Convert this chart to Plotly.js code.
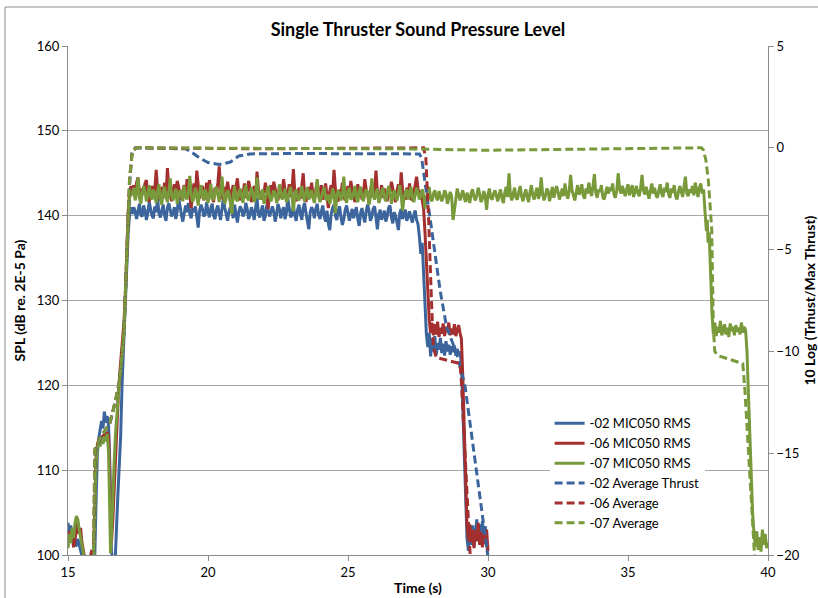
<!DOCTYPE html>
<html><head><meta charset="utf-8">
<script src="https://cdn.plot.ly/plotly-3.0.1.min.js"></script>
<style>html,body{margin:0;padding:0;background:#fff}#chart{width:818px;height:598px}</style>
</head><body><div id="chart"></div>
<script>
// ---- sampling step of the noisy plateau sections (s) ----
const PLATEAU_STEP = 0.05;

// ---- -02 MIC050 RMS (dB) ----
const RMS02_HEAD_T = [15.0,15.05,15.1,15.15,15.2,15.28,15.35,15.45,15.55,15.7,15.95,16.0,16.05,16.1,16.15,16.2,16.25,16.3,16.35,16.4,16.45,16.5,16.55,16.6,16.68,16.72,16.78,16.83,16.88,16.93,17.0,17.05,17.1,17.15,17.2,17.25];
const RMS02_HEAD = [103.8,102.4,103.5,101.6,102.6,101.0,101.9,100.4,99.2,99,99,106,112,113.8,114.6,115.8,114.9,116.9,115.6,116.4,115.2,110,100.5,99.2,99,103,107,110.5,114,120,125,129,134,138,140.2,141.0];
const RMS02_PLAT_T0 = 17.3;
const RMS02_PLAT = [
140.2,141.0,140.5,139.6,140.8,141.4,140.1,139.9,141.2,140.6,139.5,140.3,141.6,140.9,140.0,139.7,141.1,140.4,142.0,140.2,
139.8,140.6,141.3,140.0,139.4,140.9,141.5,140.7,139.9,140.3,141.0,139.6,140.5,142.2,140.8,140.1,139.3,140.6,141.2,140.4,
141.5,140.2,139.7,140.9,140.4,141.1,139.5,138.6,140.6,141.3,140.8,139.9,140.2,141.6,140.5,139.8,140.9,141.4,140.0,139.6,
140.7,141.2,140.3,139.5,140.8,142.0,140.9,140.1,139.4,140.5,141.0,140.6,139.7,141.3,140.2,139.2,140.4,141.1,140.7,139.9,
140.3,141.5,140.8,139.6,140.1,141.0,140.4,139.5,140.9,142.1,140.2,139.8,140.6,141.2,139.4,140.0,141.3,140.7,139.9,140.5,
141.1,140.4,139.3,140.2,141.4,140.8,139.7,140.5,141.0,139.6,140.3,142.1,140.6,139.8,140.1,141.2,140.0,139.4,140.7,141.3,
140.2,139.5,140.9,141.5,140.3,139.2,138.4,140.4,141.0,140.6,139.7,140.8,141.4,140.1,139.6,140.5,141.2,139.9,139.3,140.6,
139.0,138.3,140.2,140.9,141.3,140.0,139.5,140.6,141.1,139.8,138.9,139.6,140.7,141.2,140.3,139.4,140.1,140.8,139.7,140.4,
141.0,139.6,138.8,140.3,140.9,139.9,139.2,140.5,141.3,140.6,139.4,139.9,140.8,141.1,139.7,138.4,140.2,140.7,139.5,140.1,
140.6,139.3,139.9,140.9,141.2,139.8,139.1,140.4,140.0,139.2,138.3,140.3,140.8,139.6,140.1,140.7,139.4,139.9,140.5,139.7,
139.2,140.1,140.6,139.5,139.0];
const RMS02_TAIL_T = [27.55,27.6,27.65,27.7,27.75,27.8,27.85,27.9,27.95,28.0,28.05,28.1,28.15,28.2,28.25,28.3,28.35,28.4,28.45,28.5,28.55,28.6,28.65,28.7,28.75,28.8,28.85,28.9,28.95,29.0,29.05,29.1,29.15,29.2,29.25,29.3,29.35,29.4,29.45,29.5,29.55,29.6,29.65,29.7,29.75,29.8,29.85,29.9,29.95,30.0];
const RMS02_TAIL = [137.5,135.5,136.8,133,129,126,124.5,126.2,123.4,125.5,124.0,125.8,123.6,125.0,124.2,125.6,123.8,124.9,123.5,125.2,124.0,124.8,123.6,124.6,123.9,124.7,123.5,124.3,123.6,124.0,122.5,117,111,106,102,100.5,102.8,101.2,103.5,101.0,102.6,104.2,101.8,103.6,101.4,104.0,102.2,103.4,101.6,99.5];

// ---- -06 MIC050 RMS (dB) ----
const RMS06_HEAD_T = [15.0,15.05,15.1,15.15,15.2,15.3,15.35,15.4,15.45,15.5,15.55,15.62,15.75,15.85,15.9,15.96,16.0,16.05,16.1,16.2,16.3,16.35,16.4,16.45,16.5,16.55,16.6,16.65,16.7,16.75,16.8,16.85,16.9,16.95,17.0,17.05,17.1,17.15,17.2,17.25];
const RMS06_HEAD = [101.2,102.8,101.6,102.2,100.9,102.6,103.8,102.5,103.2,101.4,100.6,99.3,99,100.6,99.2,106,111.5,113,113.6,113.9,114.2,113.8,114.5,114.0,108,101.5,104,108,113,116,119,121.5,123.5,125,127.5,131,136,140.5,142.8,143.5];
const RMS06_PLAT_T0 = 17.3;
const RMS06_PLAT = [
142.8,143.6,142.1,143.9,144.5,142.7,141.9,143.2,142.5,143.8,144.2,142.4,141.6,142.9,143.5,142.2,143.1,145.4,143.0,142.3,
141.8,143.4,142.6,143.9,142.0,145.6,143.3,142.5,141.7,143.0,143.7,142.2,144.1,143.4,142.6,141.9,142.8,143.6,142.1,144.3,
143.1,142.4,140.9,142.9,143.8,142.3,145.3,143.2,142.0,142.7,143.5,141.8,142.4,143.9,142.6,144.2,143.0,142.1,141.6,143.3,
142.5,143.7,145.8,143.1,142.2,141.9,143.4,142.8,144.0,142.5,141.7,142.9,143.6,142.3,143.2,144.4,142.7,141.8,143.0,142.4,
143.8,142.1,142.9,144.1,143.3,141.6,142.6,143.5,142.0,145.2,143.1,142.4,141.9,143.0,142.7,143.9,142.2,140.8,142.8,143.6,
142.3,144.0,143.2,142.6,141.8,143.4,142.1,142.9,144.3,143.0,141.9,142.5,143.7,142.2,143.1,145.5,142.8,141.7,142.4,143.3,
142.0,143.5,145.0,142.6,141.6,142.8,143.4,142.1,143.9,142.5,141.8,143.0,144.0,142.7,142.2,143.6,141.9,142.5,143.8,142.3,
140.9,142.9,143.6,142.4,145.4,143.2,142.0,141.7,143.1,142.6,143.9,142.3,141.8,142.7,143.5,142.1,144.1,143.0,142.4,141.6,
142.8,143.7,142.2,143.3,141.9,142.5,144.3,143.1,142.6,141.4,142.9,143.8,142.2,143.0,145.3,142.7,141.8,142.4,143.6,142.1,
143.2,142.5,141.7,143.4,142.8,144.0,143.1,142.3,141.6,142.9,143.7,142.4,145.1,143.0,142.2,141.9,143.3,142.6,143.8,142.0,
141.8,142.7,143.5,144.6,143.2,142.4,142.9,141.6,140.8];
const RMS06_TAIL_T = [27.75,27.8,27.85,27.9,27.95,28.0,28.05,28.1,28.15,28.2,28.25,28.3,28.35,28.4,28.45,28.5,28.55,28.6,28.65,28.7,28.75,28.8,28.85,28.9,28.95,29.0,29.05,29.1,29.15,29.2,29.25,29.3,29.35,29.4,29.45,29.5,29.55,29.6,29.65,29.7,29.75,29.8,29.85,29.9,29.95,30.0];
const RMS06_TAIL = [138,134.5,131,127.8,126.2,127.4,125.9,127.2,126.0,127.5,125.7,126.8,126.1,127.3,125.8,126.9,126.3,127.4,125.9,126.7,126.0,127.2,125.8,126.6,127.1,126.2,125.5,121,114,108,103.5,101.8,103.6,101.5,103.0,100.8,102.9,101.6,103.8,101.2,102.7,100.9,102.4,101.3,103.0,100.5];

// ---- -07 MIC050 RMS (dB) ----
const RMS07_HEAD_T = [15.0,15.05,15.1,15.15,15.2,15.25,15.3,15.35,15.4,15.45,15.5,15.55,15.6,15.8,15.92,15.96,16.0,16.05,16.1,16.15,16.2,16.25,16.3,16.35,16.4,16.45,16.48,16.52,16.56,16.6,16.65,16.7,16.75,16.8,16.85,16.9,16.95,17.0,17.05,17.1,17.15,17.2,17.25];
const RMS07_HEAD = [100.8,102.5,101.4,103.2,102.0,103.8,104.6,104.2,103.0,102.2,101.0,100.2,99.2,99,99,105,110.5,112.6,113.2,112.8,113.6,113.1,114.0,113.4,114.3,112,104,100.2,103,107.5,111,114.5,117,119.5,121,122.5,124,126.5,130,135,139.5,142,142.8];
const RMS07_PLAT_T0 = 17.3;
const RMS07_PLAT = [
142.4,143.3,141.8,142.7,144.5,142.1,141.4,142.6,143.5,142.9,141.7,142.2,143.6,142.5,141.9,143.1,142.3,141.5,142.8,143.7,
142.0,141.3,142.9,143.4,142.2,141.6,142.7,144.4,142.4,141.8,142.5,143.2,141.4,142.1,143.0,142.6,141.7,143.5,142.3,141.9,
142.8,144.7,142.5,141.6,142.2,143.3,142.0,141.2,142.7,143.6,142.4,141.9,143.1,142.6,141.5,142.3,143.7,142.1,141.8,142.9,
143.4,142.2,141.6,142.8,144.6,142.5,141.4,142.1,143.0,142.7,141.3,140.2,142.4,143.5,142.0,141.7,142.6,143.2,142.3,141.5,
142.9,143.6,142.1,141.8,142.5,143.3,142.7,141.6,142.2,144.5,142.4,141.9,142.6,143.1,141.4,142.0,142.8,143.5,142.2,141.7,
142.3,143.0,142.6,141.5,142.1,143.7,142.8,141.9,142.4,143.2,141.6,142.0,142.7,143.4,142.3,140.5,142.5,143.1,142.0,141.8,
142.6,143.5,142.2,141.7,142.9,143.3,141.9,142.4,143.0,142.1,141.5,142.8,144.3,142.3,141.6,142.2,142.9,143.4,142.0,141.8,
142.5,141.4,142.1,143.2,142.7,140.3,142.3,143.0,142.6,141.8,142.4,144.6,142.2,141.5,142.8,143.3,141.9,142.1,142.7,143.5,
142.0,141.6,142.9,143.4,142.3,141.7,142.5,143.1,142.8,141.3,142.2,144.4,142.4,141.9,142.6,143.2,141.5,142.0,142.8,143.3,
142.1,141.7,142.6,143.5,142.9,141.4,142.3,143.0,142.2,141.8,142.7,143.6,142.4,140.6,142.0,142.8,143.1,141.9,142.5,143.4,
142.2,141.6,142.4,143.3,142.7,141.9,142.3,143.1,142.5,140.8,142.1,142.9,143.4,142.0,141.7,142.6,143.0,142.2,141.8,142.9,
142.4,141.7,142.2,143.0,142.6,141.4,142.1,142.8,142.3,139.5,140.6,142.2,143.2,142.5,141.8,142.4,143.0,142.1,141.6,142.7,
142.0,141.5,142.7,143.1,142.2,141.8,142.4,143.3,142.6,141.6,142.0,142.9,142.3,140.7,142.5,143.2,142.1,141.9,142.6,143.0,
142.3,141.7,142.5,143.1,142.0,141.5,142.7,143.4,142.2,145.0,142.4,141.8,142.6,143.3,142.1,141.9,142.8,143.5,142.3,141.7,
142.5,143.1,142.2,141.6,142.8,143.6,142.4,141.9,142.7,143.3,142.0,142.5,144.5,142.6,141.8,142.3,143.2,142.9,141.7,142.6,
143.4,142.1,142.7,143.5,142.8,141.9,142.5,143.2,142.3,143.8,142.6,142.0,142.9,144.8,143.0,142.4,141.8,142.7,143.6,142.5,
142.8,143.7,142.4,142.0,143.2,142.6,143.9,142.9,142.3,143.5,144.9,142.7,142.1,143.1,142.8,143.6,142.2,141.9,142.9,143.4,
142.6,143.3,142.9,143.8,142.5,142.1,143.0,145.0,143.2,142.6,143.5,142.8,142.3,143.1,143.7,142.4,142.9,143.6,142.2,143.0,
143.5,142.7,142.3,143.2,144.8,143.0,142.5,143.4,142.8,142.0,142.9,143.8,142.6,143.3,142.4,142.1,143.0,143.7,142.6,142.2,
143.3,142.8,143.9,142.5,142.1,143.2,142.7,143.6,142.3,141.9,142.8,143.5,142.9,142.2,143.4,144.6,142.6,142.3,143.1,142.7,
143.5,142.4,143.9,142.8,142.2,143.3,143.8,142.6,143.1];
const RMS07_TAIL_T = [37.75,37.8,37.83,37.86,37.9,37.93,37.96,38.0,38.05,38.1,38.15,38.2,38.25,38.3,38.35,38.4,38.45,38.5,38.55,38.6,38.65,38.7,38.75,38.8,38.85,38.9,38.95,39.0,39.05,39.1,39.15,39.2,39.25,39.3,39.35,39.4,39.45,39.5,39.55,39.6,39.65,39.7,39.75,39.8,39.85,39.9,39.95,40.0];
const RMS07_TAIL = [140.5,138.2,139.5,136.8,138.0,135.0,132.5,128.5,126.0,127.4,125.8,126.9,126.2,127.6,125.9,126.7,127.2,126.0,126.8,125.7,127.3,126.4,126.9,125.9,127.1,126.3,126.8,126.0,127.4,126.2,126.9,126.5,124,119,114,109,105,102.5,101,102.8,100.6,102.1,100.4,103.0,101.2,102.5,100.8,101.5];

// ---- Average thrust, 10 Log(Thrust/Max Thrust) (dB) ----
const AVG02_T = [15.92,15.97,16.15,16.5,16.7,16.85,17.0,17.1,17.2,17.28,17.4,19.2,19.35,19.7,20.0,20.4,20.8,21.1,21.5,23.0,26.0,27.55,27.63,27.82,28.05,28.29,28.52,28.88,29.18,30.0];
const AVG02 = [-21,-14.9,-14.3,-13.5,-12.4,-11.4,-9.0,-5.5,-1.8,-0.3,0,-0.05,-0.15,-0.5,-0.72,-0.82,-0.7,-0.4,-0.3,-0.28,-0.3,-0.3,-0.5,-2.4,-4.8,-7.0,-8.8,-10.1,-11.7,-20.1];
const AVG06_T = [15.9,15.96,16.15,16.5,16.7,16.85,17.0,17.1,17.2,17.3,17.45,22.0,27.0,27.7,27.78,27.88,27.98,28.05,28.15,29.0,29.05,29.15,29.3,29.4];
const AVG06 = [-21,-14.8,-14.25,-13.5,-12.4,-11.4,-9.0,-5.0,-1.5,-0.15,0,-0.05,-0.02,0,-0.5,-3.5,-7.5,-9.8,-10.3,-10.6,-11.5,-14.5,-18.5,-21];
const AVG07_T = [15.9,15.96,16.15,16.5,16.7,16.85,17.0,17.1,17.2,17.3,17.45,22.0,27.0,30.0,33.0,37.62,37.69,37.78,37.87,37.94,37.99,38.05,38.1,38.2,39.1,39.18,39.3,39.45,39.56];
const AVG07 = [-21,-14.8,-14.25,-13.5,-12.4,-11.4,-9.0,-5.0,-1.5,-0.15,0,-0.03,-0.05,-0.12,-0.08,0,-0.1,-0.6,-1.6,-2.8,-4.0,-8.9,-10.0,-10.2,-10.6,-12,-15,-18.5,-21];

// ---- labels / colours ----
const NAMES = ['-02 MIC050 RMS','-06 MIC050 RMS','-07 MIC050 RMS','-02 Average Thrust','-06 Average','-07 Average'];
const COLORS = ['#3B659C','#A3302E','#789A3A'];
const RIGHT_TITLE = '10 Log (Trhust/Max Thrust)';

function series(headT, headV, t0, platV, tailT, tailV) {
  const t = headT.slice(), v = headV.slice();
  platV.forEach((val, i) => { t.push(+(t0 + i * PLATEAU_STEP).toFixed(2)); v.push(val); });
  const last = t[t.length - 1];
  tailT.forEach((tt, i) => { if (tt > last) { t.push(tt); v.push(tailV[i]); } });
  return {t, v};
}
const s02 = series(RMS02_HEAD_T, RMS02_HEAD, RMS02_PLAT_T0, RMS02_PLAT, RMS02_TAIL_T, RMS02_TAIL);
const s06 = series(RMS06_HEAD_T, RMS06_HEAD, RMS06_PLAT_T0, RMS06_PLAT, RMS06_TAIL_T, RMS06_TAIL);
const s07 = series(RMS07_HEAD_T, RMS07_HEAD, RMS07_PLAT_T0, RMS07_PLAT, RMS07_TAIL_T, RMS07_TAIL);

const FONT = 'Lato, "Open Sans", sans-serif';
const solid = (s, i) => ({x: s.t, y: s.v, name: NAMES[i], type: 'scatter', mode: 'lines',
  line: {color: COLORS[i], width: 3}, hoverinfo: 'skip'});
const dashed = (t, v, i) => ({x: t, y: v, name: NAMES[i + 3], type: 'scatter', mode: 'lines', yaxis: 'y2',
  line: {color: COLORS[i], width: 3, dash: '8px,4px'}, hoverinfo: 'skip'});

const data = [solid(s02, 0), solid(s06, 1), solid(s07, 2),
  dashed(AVG02_T, AVG02, 0), dashed(AVG06_T, AVG06, 1), dashed(AVG07_T, AVG07, 2)];

const layout = {
  width: 818, height: 598,
  margin: {l: 68, r: 50, t: 46, b: 43},
  paper_bgcolor: '#fff', plot_bgcolor: '#fff',
  font: {family: FONT, size: 13, color: '#000'},
  showlegend: true,
  title: {text: '<b>Single Thruster Sound Pressure Level</b>', font: {family: FONT, size: 18, color: '#000'},
    x: 0.511, xanchor: 'center', y: 0.951, yanchor: 'middle', yref: 'container'},
  xaxis: {range: [15, 40], dtick: 5, tick0: 15, showgrid: false, zeroline: false,
    showline: true, linecolor: '#8C8C8C', linewidth: 1, ticks: 'outside', ticklen: 5, tickcolor: '#8C8C8C',
    tickfont: {size: 13}, title: {text: '<b>Time (s)</b>', font: {size: 14}, standoff: 4}},
  yaxis: {range: [100, 160], dtick: 10, showgrid: true, gridcolor: '#A6A6A6', gridwidth: 1, zeroline: false,
    showline: true, linecolor: '#8C8C8C', linewidth: 1, ticks: 'outside', ticklen: 5, tickcolor: '#8C8C8C',
    tickfont: {size: 13}, title: {text: '<b>SPL (dB re. 2E-5 Pa)</b>', font: {size: 14}, standoff: 7}},
  yaxis2: {range: [-20, 5], dtick: 5, overlaying: 'y', side: 'right', showgrid: false, zeroline: false,
    showline: true, linecolor: '#8C8C8C', linewidth: 1, ticks: 'outside', ticklen: 5, tickcolor: '#8C8C8C',
    tickfont: {size: 13}},
  legend: {x: 0.688, y: 0.288, xanchor: 'left', yanchor: 'top', bgcolor: '#fff', borderwidth: 0,
    font: {size: 13}, itemwidth: 30, tracegroupgap: 0},
  annotations: [
    {text: '<b>' + RIGHT_TITLE + '</b>', xref: 'paper', yref: 'paper', x: 1.0586, y: 0.5,
     xanchor: 'center', yanchor: 'middle', textangle: -90, showarrow: false, font: {size: 14, color: '#000'}}
  ],
  shapes: [
    {type: 'rect', layer: 'between', xref: 'paper', yref: 'paper', x0: 0.644, x1: 0.953, y0: 0.02, y1: 0.295,
     fillcolor: '#fff', line: {width: 0}},
    {type: 'line', xref: 'paper', yref: 'paper', x0: -0.09, x1: 1.2, y0: 1.0766, y1: 1.0766, line: {color: '#8C8C8C', width: 1}},
    {type: 'line', xref: 'paper', yref: 'paper', x0: -0.09, x1: -0.09, y0: 1.0766, y1: -0.2, line: {color: '#8C8C8C', width: 1}}
  ]
};
Plotly.newPlot('chart', data, layout, {staticPlot: true});
</script></body></html>
